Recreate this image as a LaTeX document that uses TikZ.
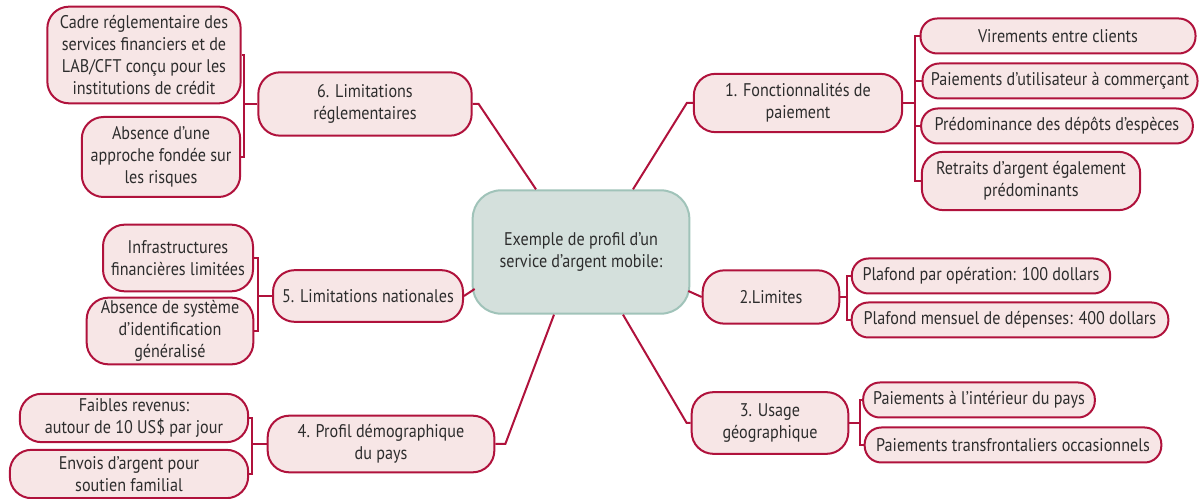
\documentclass[tikz,border=0pt]{standalone}
\usepackage{fontspec}
\setmainfont{PT Sans}[FakeStretch=0.88]
\usetikzlibrary{calc}
\definecolor[named]{MapRed}{RGB}{176,18,60}
\definecolor[named]{MapPink}{RGB}{247,230,230}
\definecolor[named]{HubFill}{RGB}{212,224,220}
\definecolor[named]{HubLine}{RGB}{160,195,185}
\definecolor[named]{MapText}{RGB}{45,45,45}
\tikzset{
  box/.style={draw=MapRed,fill=MapPink,line width=1.2pt,align=center,
    inner sep=0pt,text=MapText,font=\fontsize{11}{13.2}\selectfont},
  leaf/.style={box,rounded corners=10pt,minimum height=21pt},
  tallleaf/.style={box,rounded corners=13pt},
  branch/.style={box,rounded corners=13pt},
  hub/.style={draw=HubLine,fill=HubFill,line width=1.2pt,rounded corners=17pt,
    align=center,inner sep=0pt,text=MapText,font=\fontsize{11}{13.2}\selectfont},
  link/.style={draw=MapRed,line width=1.2pt}
}

\begin{document}
\begin{tikzpicture}[x=0.6pt,y=-0.6pt]
    \useasboundingbox (0,0) rectangle (1200,499);

    % Centre
    \node[hub,minimum width=130pt,minimum height=74pt] (root) at (581,252)
      {Exemple de profil d’un\\service d’argent mobile:};

    % Branches
    \node[branch,minimum width=125pt,minimum height=35pt] (b1) at (798,103) {1. Fonctionnalités de\\paiement};
    \node[branch,minimum width=82pt,minimum height=32pt] (b2) at (771,297) {2.Limites};
    \node[branch,minimum width=94pt,minimum height=37pt] (b3) at (770,423) {3. Usage\\géographique};
    \node[branch,minimum width=136pt,minimum height=34pt] (b4) at (381,444) {4. Profil démographique\\du pays};
    \node[branch,minimum width=114pt,minimum height=31pt] (b5) at (368,296) {5. Limitations nationales};
    \node[branch,minimum width=128pt,minimum height=38pt] (b6) at (365,104) {6. Limitations\\réglementaires};

    % Leaves of 1
    \node[leaf,minimum width=165pt] (l1a) at (1058,36) {Virements entre clients};
    \node[leaf,minimum width=165pt] (l1b) at (1060,81) {Paiements d’utilisateur à commerçant};
    \node[leaf,minimum width=163pt] (l1c) at (1057,126) {Prédominance des dépôts d’espèces};
    \node[tallleaf,minimum width=131pt,minimum height=35pt] (l1d) at (1031,181) {Retraits d’argent également\\prédominants};

    % Leaves of 2
    \node[leaf,minimum width=155pt] (l2a) at (981,276) {Plafond par opération: 100 dollars};
    \node[leaf,minimum width=190pt] (l2b) at (1010,320) {Plafond mensuel de dépenses: 400 dollars};

    % Leaves of 3
    \node[leaf,minimum width=139pt] (l3a) at (979,400) {Paiements à l’intérieur du pays};
    \node[leaf,minimum width=178pt] (l3b) at (1013,445) {Paiements transfrontaliers occasionnels};

    % Leaves of 4
    \node[tallleaf,minimum width=137pt,minimum height=29pt] (l4a) at (134,418) {Faibles revenus:\\autour de 10 US\$ par jour};
    \node[tallleaf,minimum width=143pt,minimum height=29pt] (l4b) at (129,474) {Envois d’argent pour\\soutien familial};

    % Leaves of 5
    \node[tallleaf,minimum width=90pt,minimum height=40pt] (l5a) at (178,258) {Infrastructures\\financières limitées};
    \node[tallleaf,minimum width=100pt,minimum height=40pt] (l5b) at (170,331) {Absence de système\\d’identification\\généralisé};

    % Leaves of 6
    \node[tallleaf,minimum width=116pt,minimum height=58pt] (l6a) at (144,55) {Cadre réglementaire des\\services financiers et de\\LAB/CFT conçu pour les\\institutions de crédit};
    \node[tallleaf,minimum width=95pt,minimum height=48pt] (l6b) at (161,157) {Absence d’une\\approche fondée sur\\les risques};

    % Centre to branches
    \draw[link] ($(root.north)+(52,0)$) -- ($(b1.west)+(-6,0)$) -- (b1.west);
    \draw[link] ($(root.north)+(-45,0)$) -- ($(b6.east)+(6,0)$) -- (b6.east);
    \draw[link] ($(root.east)+(-2,39)$) -- (b2.west);
    \draw[link] ($(root.west)+(3,37)$) -- (b5.east);
    \draw[link] ($(root.south)+(42,0)$) -- ($(b3.west)+(-4,0)$) -- (b3.west);
    \draw[link] ($(root.south)+(-27,0)$) -- ($(b4.east)+(10,0)$) -- (b4.east);

    % Brackets to the leaves
    \draw[link] (b1.east) -- ++(12,0) coordinate (k1);
    \foreach \l in {l1a,l1b,l1c,l1d} \draw[link] (k1) |- (\l.west);
    \draw[link] (b2.east) -- ++(7,0) coordinate (k2);
    \foreach \l in {l2a,l2b} \draw[link] (k2) |- (\l.west);
    \draw[link] (b3.east) -- ++(11,0) coordinate (k3);
    \foreach \l in {l3a,l3b} \draw[link] (k3) |- (\l.west);
    \draw[link] (b4.west) -- ++(-15,0) coordinate (k4);
    \foreach \l in {l4a,l4b} \draw[link] (k4) |- (\l.east);
    \draw[link] (b5.west) -- ++(-14,0) coordinate (k5);
    \foreach \l in {l5a,l5b} \draw[link] (k5) |- (\l.east);
    \draw[link] (b6.west) -- ++(-13,0) coordinate (k6);
    \foreach \l in {l6a,l6b} \draw[link] (k6) |- (\l.east);
\end{tikzpicture}
\end{document}
